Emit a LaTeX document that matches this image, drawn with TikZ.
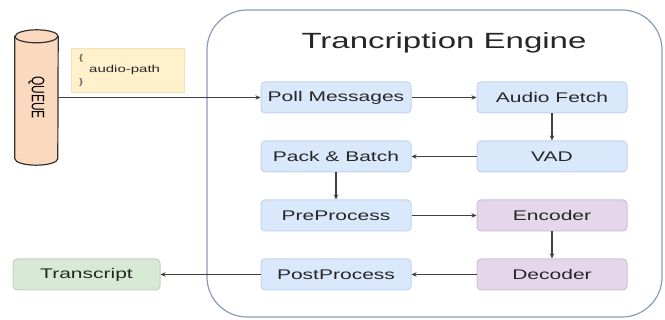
\documentclass[tikz,border=0pt]{standalone}
\usepackage{fontspec}
\usepackage{graphicx}
\setmainfont{Liberation Sans}[FakeStretch=1.5]
\newfontfamily\queuefont{Liberation Sans}
\usetikzlibrary{positioning,arrows.meta,backgrounds}

\definecolor{blueFill}{HTML}{DAE8FC}
\definecolor{blueLine}{HTML}{C3D3EA}
\definecolor{purpleFill}{HTML}{E4D7EA}
\definecolor{purpleLine}{HTML}{CEBFD9}
\definecolor{greenFill}{HTML}{D8EAD5}
\definecolor{greenLine}{HTML}{BCD6B8}
\definecolor{queueFill}{HTML}{FBD9BE}
\definecolor{noteFill}{HTML}{FFF1CC}
\definecolor{noteLine}{HTML}{F5E3B3}
\definecolor{engineLine}{HTML}{8A9BBB}
\definecolor{arrowGray}{HTML}{404040}

\begin{document}
\begin{tikzpicture}[x=1pt,y=1pt,
	stage/.style={rectangle, rounded corners=4pt, draw=blueLine, fill=blueFill, line width=1pt,
		minimum width=150pt, minimum height=31pt, inner sep=0pt, font=\fontsize{14}{16}\selectfont, text=black!85},
	model/.style={stage, draw=purpleLine, fill=purpleFill},
	result/.style={stage, draw=greenLine, fill=greenFill, minimum width=147pt},
	flow/.style={-{Stealth[length=5pt,width=4.5pt]}, line width=1.2pt, draw=arrowGray},
	queuecap/.style={x radius=21.5pt, y radius=6.5pt}]
	\useasboundingbox (0,0) rectangle (665,320);

	% engine frame
	\node[rectangle, rounded corners=40pt, draw=engineLine, line width=1.2pt,
		minimum width=455pt, minimum height=307pt] (engine) at (434.5,156.5) {};
	\node[font=\fontsize{22}{26}\selectfont, text=black!85] (title) at (444,277) {Trancription Engine};

	% queue and message
	\node[rectangle, minimum width=43pt, minimum height=122pt, inner sep=0pt] (queue) at (36.5,222.5)
		{\rotatebox{-90}{\queuefont\fontsize{12}{14}\selectfont\scalebox{1}[1.5]{QUEUE}}};
	\node[rectangle, draw=noteLine, fill=noteFill, anchor=north west, minimum width=113pt, minimum height=44pt,
		text width=97pt, align=left, inner sep=0pt, font=\fontsize{10}{12}\selectfont, text=black!85] (msg) at (71,272)
		{{\fontsize{8}{12}\selectfont\{}\\\hspace*{10pt}audio-path\\{\fontsize{8}{12}\selectfont\}}};

	% pipeline
	\node[stage] (poll) at (336,222.5) {Poll Messages};
	\node[stage] (fetch) [right=65pt of poll] {Audio Fetch};
	\node[stage] (vad) [below=27pt of fetch] {VAD};
	\node[stage] (pack) [left=65pt of vad] {Pack \& Batch};
	\node[stage] (pre) [below=27pt of pack] {PreProcess};
	\node[model] (enc) [right=65pt of pre] {Encoder};
	\node[model] (dec) [below=27pt of enc] {Decoder};
	\node[stage] (post) [left=65pt of dec] {PostProcess};
	\node[result] (trans) [left=100pt of post] {Transcript};

	\draw [flow] (queue) -- (poll);
	\draw [flow] (poll) -- (fetch);
	\draw [flow] (fetch) -- (vad);
	\draw [flow] (vad) -- (pack);
	\draw [flow] (pack) -- (pre);
	\draw [flow] (pre) -- (enc);
	\draw [flow] (enc) -- (dec);
	\draw [flow] (dec) -- (post);
	\draw [flow] (post) -- (trans);

	\begin{pgfonlayer}{background}
		\draw[fill=queueFill, draw=black!80, line width=1.2pt]
			(queue.north west) -- (queue.south west) arc[start angle=180, end angle=360, queuecap]
			-- (queue.north east) arc[start angle=0, end angle=180, queuecap] -- cycle;
		\draw[draw=black!80, line width=1.2pt]
			(queue.north west) arc[start angle=180, end angle=360, queuecap];
	\end{pgfonlayer}
\end{tikzpicture}
\end{document}
